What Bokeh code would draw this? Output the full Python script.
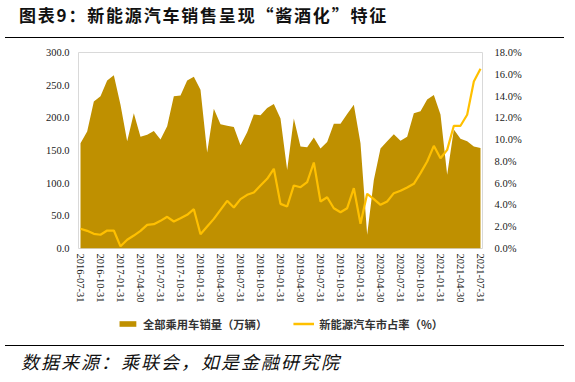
import pandas as pd
from bokeh.plotting import figure
from bokeh.models import (Range1d, LinearAxis, FixedTicker, PrintfTickFormatter,
                          Legend, LegendItem, Div, ColumnDataSource)
from bokeh.layouts import column
from bokeh.embed import file_html
from bokeh.resources import INLINE

months = [d.strftime("%Y-%m-%d") for d in pd.date_range("2016-07-31", "2021-07-31", freq="ME")]

sales = [161, 179, 225, 233, 257, 265, 220, 164, 207, 171,
         174, 180, 167, 187, 233, 234, 257, 263, 243, 147,
         214, 190, 188, 186, 158, 178, 205, 204, 215, 221,
         199, 120, 199, 156, 155, 170, 153, 163, 191, 191,
         206, 220, 161, 21, 105, 153, 164, 175, 165, 171,
         207, 210, 228, 235, 205, 113, 182, 168, 164, 156, 154]

nev_share = [1.81, 1.62, 1.35, 1.26, 1.65, 1.65, 0.2, 0.8, 1.19, 1.62,
             2.17, 2.23, 2.54, 2.91, 2.48, 2.78, 3.09, 3.61, 1.31, 2.02,
             2.72, 3.55, 4.38, 3.77, 4.53, 4.93, 5.14, 5.79, 6.4, 7.32,
             4.1, 3.86, 5.79, 5.63, 6.09, 7.9, 4.32, 4.71, 3.7, 3.33,
             3.7, 5.54, 2.27, 5.02, 4.53, 4.01, 4.32, 5.08, 5.3, 5.6,
             5.94, 6.92, 7.99, 9.43, 8.29, 9.06, 11.27, 11.27, 12.28, 15.33, 16.5]

series_names = ["全部乘用车销量（万辆）", "新能源汽车市占率（%）"]
fill_col = "#BF9000"
line_col = "#FFC000"

x = list(range(len(months)))
src = ColumnDataSource(dict(x=x, sales=sales, share=nev_share))

p = figure(frame_width=404, frame_height=196, min_border_left=78, min_border_right=77,
           min_border_top=8, min_border_bottom=61,
           x_range=Range1d(-0.3, len(months) - 0.7), y_range=Range1d(0, 300),
           output_backend="svg", toolbar_location=None)
p.extra_y_ranges = {"pct": Range1d(0, 18)}

p.varea(x="x", y1=0, y2="sales", source=src, fill_color=fill_col)
p.line(x="x", y="share", source=src, y_range_name="pct", line_color=line_col, line_width=2.2)

p.xgrid.visible = False
p.ygrid.visible = False
p.outline_line_color = "#D9D9D9"
p.outline_line_width = 1

serif = "'Liberation Serif'"

p.yaxis.ticker = FixedTicker(ticks=[0, 50, 100, 150, 200, 250, 300])
p.yaxis.formatter = PrintfTickFormatter(format="%.1f")

ra = LinearAxis(y_range_name="pct", ticker=FixedTicker(ticks=[0, 2, 4, 6, 8, 10, 12, 14, 16, 18]),
                formatter=PrintfTickFormatter(format="%.1f%%"))
p.add_layout(ra, "right")

p.xaxis.ticker = FixedTicker(ticks=x[::3])
p.xaxis.major_label_overrides = {i: months[i] for i in x[::3]}
p.xaxis.major_label_orientation = "vertical"

for ax in p.yaxis + p.xaxis:
    ax.axis_line_color = None
    ax.major_tick_line_color = None
    ax.minor_tick_line_color = None
    ax.major_tick_out = 0
    ax.major_tick_in = 0
    ax.minor_tick_out = 0
    ax.minor_tick_in = 0
    ax.major_label_text_font = serif
    ax.major_label_text_font_size = "10.5px"
    ax.major_label_text_color = "#1a1a1a"
p.yaxis[0].major_label_standoff = 9
ra.major_label_standoff = 12
p.xaxis.major_label_standoff = 5

# legend strip below the chart; its proxy glyphs use the same data, drawn out of view
lp = figure(width=559, height=31, min_border_left=0, min_border_right=0,
            min_border_top=0, min_border_bottom=2,
            x_range=Range1d(-0.3, len(months) - 0.7), y_range=Range1d(1000, 1001),
            output_backend="svg", toolbar_location=None)
lp.axis.visible = False
lp.grid.visible = False
lp.outline_line_color = None
a_leg = lp.varea(x="x", y1=0, y2="sales", source=src, fill_color=fill_col)
l_leg = lp.line(x="x", y="share", source=src, line_color=line_col, line_width=2.5)
legend = Legend(items=[LegendItem(label=series_names[0], renderers=[a_leg]),
                       LegendItem(label=series_names[1], renderers=[l_leg])],
                orientation="horizontal", location="center",
                label_text_font="Noto Sans CJK SC", label_text_font_size="11.3px",
                label_text_font_style="bold", label_text_color="#333333",
                glyph_width=21, glyph_height=7, spacing=26, padding=2, margin=0,
                border_line_color=None, background_fill_alpha=0, label_standoff=5)
lp.add_layout(legend)

title = Div(text='<div style="width:559px;height:33px;border-bottom:1px solid #000;'
                 'font-family:\'Noto Sans CJK SC\';font-weight:bold;font-size:17px;letter-spacing:1.8px;'
                 'line-height:20px;padding-left:14px;padding-top:0px;box-sizing:border-box;color:#111">'
                 '图表9：新能源汽车销售呈现“酱酒化”特征</div>',
            width=559, height=34)

footer = Div(text='<div style="width:559px;border-top:1px solid #000;'
                  'font-family:\'Noto Sans CJK SC\';font-style:italic;font-size:18px;letter-spacing:2px;'
                  'line-height:30px;padding-left:16px;padding-top:0px;box-sizing:border-box;color:#111">'
                  '数据来源：乘联会，如是金融研究院</div>',
             width=559, height=32)

layout = column(title, p, lp, footer, spacing=0)

open("out.html", "w").write(file_html(layout, INLINE))
